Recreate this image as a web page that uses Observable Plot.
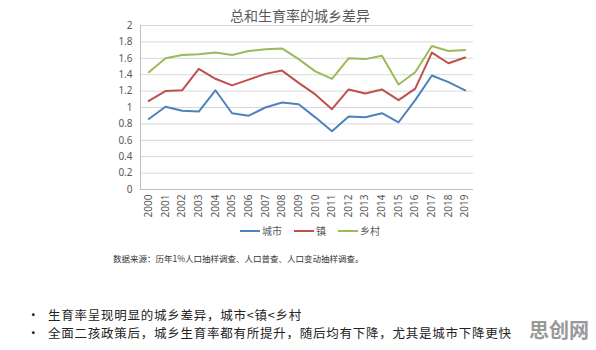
<!DOCTYPE html>
<html>
<head>
<meta charset="utf-8">
<script src="https://cdn.jsdelivr.net/npm/d3@7"></script>
<script src="https://cdn.jsdelivr.net/npm/@observablehq/plot@0.6"></script>
<style>
  html, body { margin: 0; padding: 0; background: #fff; }
  #wrap { position: relative; width: 596px; height: 350px; overflow: hidden; font-family: "Noto Sans CJK SC", "Noto Sans", sans-serif; }
  #wrap svg { position: absolute; left: 0; top: 0; }
  .title { position: absolute; left: 0; width: 600px; top: 5px; text-align: center; font-size: 14px; color: #595959; }
  .legend { position: absolute; top: 223px; left: 240px; font-size: 10px; color: #595959; display: flex; align-items: center; white-space: nowrap; }
  .legend span.sw { display: inline-block; width: 20px; height: 2px; margin-right: 2px; }
  .legend span.lb { margin-right: 12px; }
  .source { position: absolute; top: 252px; left: 113px; font-size: 8.5px; color: #333; white-space: nowrap; }
  .bullets { position: absolute; left: 27px; top: 306px; font-size: 12.5px; letter-spacing: 0.75px; color: #222; line-height: 18px; white-space: nowrap; }
  .bullets div::before { content: "•"; display: inline-block; width: 21px; }
  .wm { position: absolute; left: 529px; top: 315px; font-size: 20px; font-weight: bold; color: #999; letter-spacing: 0px; }
</style>
</head>
<body>
<div id="wrap"></div>
<script>
const years = [2000,2001,2002,2003,2004,2005,2006,2007,2008,2009,2010,2011,2012,2013,2014,2015,2016,2017,2018,2019];
const seriesNames = ["城市", "镇", "乡村"];
const seriesColors = ["#4f81bd", "#c0504d", "#9bbb59"];
const city = [0.86,1.01,0.96,0.95,1.21,0.93,0.90,1.00,1.06,1.04,0.88,0.71,0.89,0.88,0.93,0.82,1.09,1.39,1.31,1.21];
const town = [1.08,1.20,1.21,1.47,1.35,1.27,1.34,1.41,1.45,1.30,1.16,0.98,1.22,1.17,1.22,1.09,1.23,1.67,1.54,1.61];
const rural = [1.43,1.60,1.64,1.65,1.67,1.64,1.69,1.71,1.72,1.59,1.44,1.35,1.60,1.59,1.63,1.28,1.43,1.75,1.69,1.70];
const yTicks = [0,0.2,0.4,0.6,0.8,1,1.2,1.4,1.6,1.8,2];
const titleText = "总和生育率的城乡差异";
const sourceText = "数据来源：历年1%人口抽样调查、人口普查、人口变动抽样调查。";
const bulletTexts = ["生育率呈现明显的城乡差异，城市<镇<乡村", "全面二孩政策后，城乡生育率都有所提升，随后均有下降，尤其是城市下降更快"];
const watermark = "思创网";

const allSeries = [city, town, rural];
const data = [];
allSeries.forEach((vals, si) => vals.forEach((v, i) => data.push({year: years[i], value: v, series: seriesNames[si]})));

const xDomain = [years[0] - 0.5, years[years.length - 1] + 0.5];

const chart = Plot.plot({
  width: 596,
  height: 350,
  marginLeft: 140,
  marginRight: 123,
  marginTop: 25,
  marginBottom: 161,
  style: {fontFamily: "'Noto Sans', sans-serif", fontSize: "10px", color: "#595959", background: "transparent"},
  x: {type: "linear", domain: xDomain},
  y: {domain: [0, 2]},
  color: {domain: seriesNames, range: seriesColors},
  marks: [
    Plot.gridY(yTicks.filter(d => d > 0), {stroke: "#d9d9d9", strokeOpacity: 1}),
    Plot.axisY({ticks: yTicks, tickSize: 0, tickPadding: 8, tickFormat: d => String(d), label: null, fill: "#595959"}),
    Plot.axisX({ticks: years, tickSize: 0, tickPadding: 5, tickRotate: -90, tickFormat: d => String(d), label: null, fill: "#595959"}),
    Plot.ruleY([0], {stroke: "#bfbfbf"}),
    Plot.ruleX([xDomain[0]], {stroke: "#bfbfbf"}),
    Plot.line(data, {x: "year", y: "value", z: "series", stroke: "series", strokeWidth: 2})
  ]
});

const wrap = document.getElementById("wrap");
wrap.appendChild(chart);

const t = document.createElement("div"); t.className = "title"; t.textContent = titleText; wrap.appendChild(t);

const lg = document.createElement("div"); lg.className = "legend";
seriesNames.forEach((n, i) => {
  const sw = document.createElement("span"); sw.className = "sw"; sw.style.background = seriesColors[i];
  const lb = document.createElement("span"); lb.className = "lb"; lb.textContent = n;
  lg.appendChild(sw); lg.appendChild(lb);
});
wrap.appendChild(lg);

const s = document.createElement("div"); s.className = "source"; s.textContent = sourceText; wrap.appendChild(s);

const b = document.createElement("div"); b.className = "bullets";
bulletTexts.forEach(txt => { const d = document.createElement("div"); d.textContent = txt; b.appendChild(d); });
wrap.appendChild(b);

const w = document.createElement("div"); w.className = "wm"; w.textContent = watermark; wrap.appendChild(w);
</script>
</body>
</html>
